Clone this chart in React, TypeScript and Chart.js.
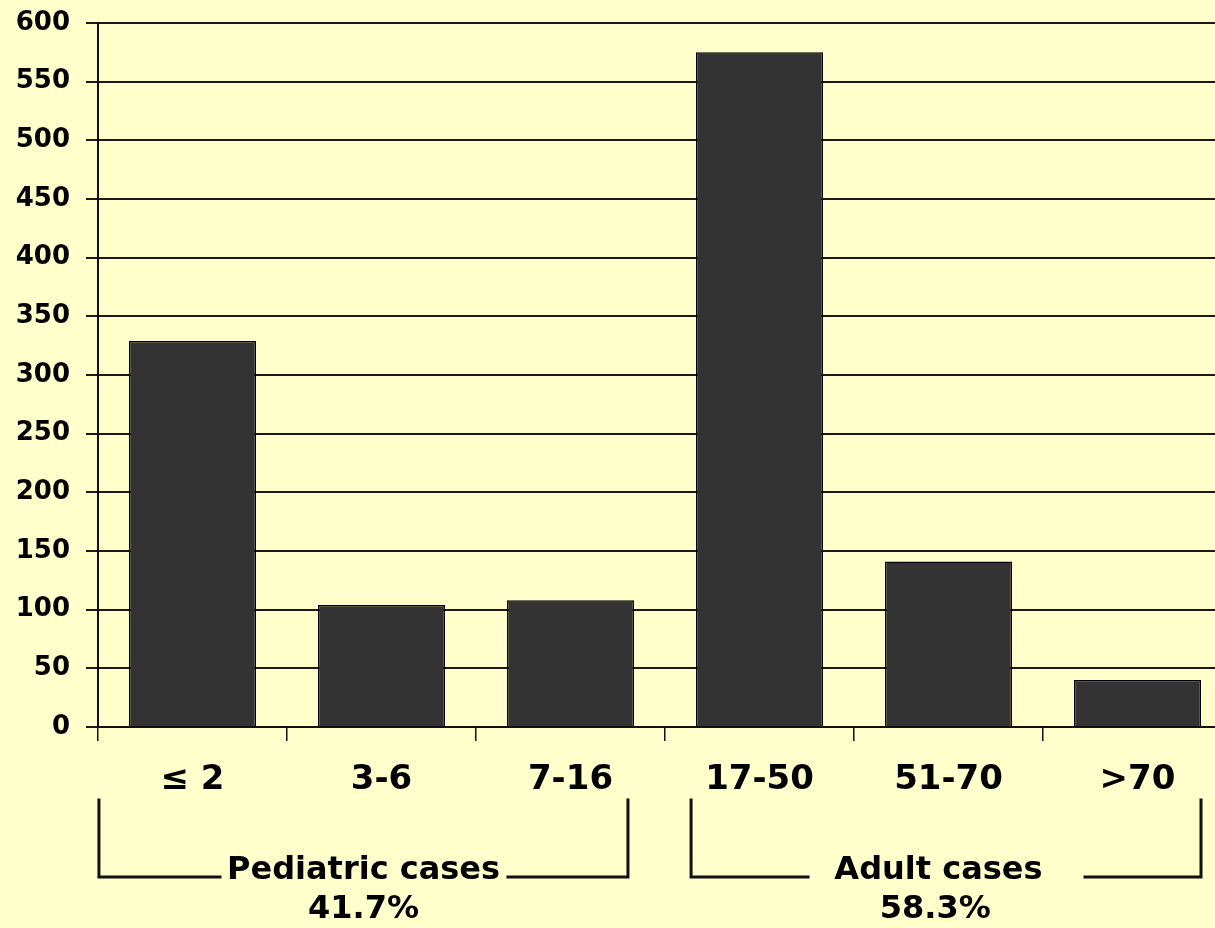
import React, { useEffect, useRef } from "react";
import { Chart, registerables } from "chart.js";

Chart.register(...registerables);

// Age groups (years) and number of cases per group
const ageGroups = ["\u2264 2", "3-6", "7-16", "17-50", "51-70", ">70"];
const caseCounts = [329, 104, 108, 575, 141, 40];
const yTicks = [0, 50, 100, 150, 200, 250, 300, 350, 400, 450, 500, 550, 600];

// Group brackets under the axis: [left, gapStart, gapEnd, right] in category units
const groupNames = ["Pediatric cases", "Adult cases"];
const groupShares = ["41.7%", "58.3%"];
const groupSpans = [
  [-0.495, 0.1455, 1.669, 2.304],
  [2.638, 3.257, 4.722, 5.336],
];
const groupLabelAt = [0.905, 3.947];
const groupShareAt = [0.905, 3.93];

const FONT = "'DejaVu Sans', sans-serif";

const bracketPlugin = {
  id: "groupBrackets",
  afterDraw(chart: any) {
    const { ctx, chartArea } = chart;
    const x = chart.scales.x;
    const base = chartArea.bottom;
    const top = base + 73;
    const bottom = base + 150;
    ctx.save();
    ctx.strokeStyle = "#111111";
    ctx.lineWidth = 3;
    ctx.lineCap = "square";
    ctx.lineJoin = "miter";
    groupSpans.forEach((span) => {
      const [l, g1, g2, r] = span.map((v) => x.getPixelForValue(v));
      ctx.beginPath();
      ctx.moveTo(l, top);
      ctx.lineTo(l, bottom);
      ctx.lineTo(g1, bottom);
      ctx.moveTo(g2, bottom);
      ctx.lineTo(r, bottom);
      ctx.lineTo(r, top);
      ctx.stroke();
    });
    ctx.fillStyle = "#000000";
    ctx.textAlign = "center";
    ctx.textBaseline = "alphabetic";
    ctx.font = `bold 32px ${FONT}`;
    groupNames.forEach((name, i) => {
      ctx.fillText(name, x.getPixelForValue(groupLabelAt[i]), base + 152);
    });
    groupShares.forEach((share, i) => {
      ctx.fillText(share, x.getPixelForValue(groupShareAt[i]), base + 191);
    });
    ctx.restore();
  },
};

export default function App() {
  const canvasRef = useRef<HTMLCanvasElement>(null);

  useEffect(() => {
    const canvas = canvasRef.current;
    if (!canvas) return;
    const chart = new Chart(canvas, {
      type: "bar",
      data: {
        labels: ageGroups,
        datasets: [
          {
            data: caseCounts,
            backgroundColor: "#333333",
            borderColor: "#000000",
            borderWidth: 1.5,
            categoryPercentage: 1,
            barPercentage: 0.672,
          },
        ],
      },
      options: {
        responsive: false,
        animation: false,
        layout: { padding: { top: 23, left: 0, right: 0, bottom: 0 } },
        plugins: {
          legend: { display: false },
          tooltip: { enabled: false },
        },
        scales: {
          x: {
            offset: true,
            grid: {
              offset: true,
              drawOnChartArea: false,
              drawTicks: true,
              tickLength: 14,
              color: "#111111",
              lineWidth: 1.5,
            },
            border: { display: true, color: "#111111", width: 2 },
            ticks: {
              color: "#000000",
              font: { family: FONT, weight: "bold", size: 34 },
              padding: 19,
              maxRotation: 0,
              autoSkip: false,
            },
            afterFit(scale: any) {
              scale.height = 201;
              scale.paddingLeft = 0;
              scale.paddingRight = 0;
            },
          },
          y: {
            min: 0,
            max: 600,
            afterBuildTicks(scale: any) {
              scale.ticks = yTicks.map((v) => ({ value: v }));
            },
            grid: {
              color: "#1a1a1a",
              lineWidth: 2,
              tickLength: 12,
            },
            border: { display: true, color: "#111111", width: 2 },
            ticks: {
              color: "#000000",
              font: { family: FONT, weight: "bold", size: 26 },
              padding: 16,
            },
            afterFit(scale: any) {
              scale.width = 98;
              scale.paddingTop = 0;
              scale.paddingBottom = 0;
            },
          },
        },
      },
      plugins: [bracketPlugin],
    });
    return () => chart.destroy();
  }, []);

  return (
    <div
      style={{
        position: "absolute",
        left: 0,
        top: 0,
        width: 1215,
        height: 928,
        overflow: "hidden",
        background: "#FFFFCC",
      }}
    >
      <canvas
        ref={canvasRef}
        width={1232}
        height={928}
        style={{ display: "block", width: 1232, height: 928 }}
      />
    </div>
  );
}
